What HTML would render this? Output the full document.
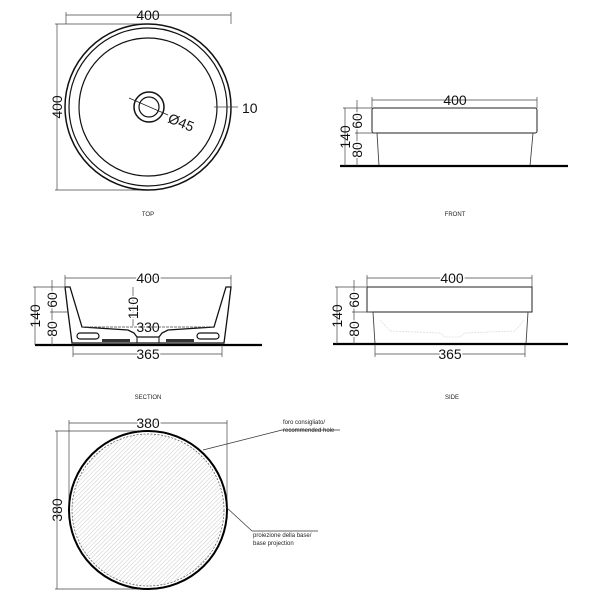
<!DOCTYPE html>
<html><head><meta charset="utf-8"><style>
html,body{margin:0;padding:0;background:#fff;}
svg{display:block;font-family:"Liberation Sans",sans-serif;}
.d{stroke:#444;stroke-width:0.7;fill:none}
.t{font-size:14px;fill:#111}
.s{font-size:6px;fill:#222}
</style></head><body>
<svg width="604" height="600" viewBox="0 0 604 600" xmlns="http://www.w3.org/2000/svg">
<defs>
<pattern id="h" width="3" height="3" patternUnits="userSpaceOnUse" patternTransform="rotate(45)">
<line x1="0" y1="0" x2="0" y2="3" stroke="#bbb" stroke-width="0.8"/>
</pattern>
<marker id="a" markerWidth="6" markerHeight="6" refX="3" refY="3" orient="auto"><path d="M0,3 L6,3" stroke="#000" stroke-width="2"/></marker>
</defs>

<!-- TOP -->
<line class="d" x1="66" y1="15" x2="231" y2="15"/>
<line class="d" x1="66" y1="12" x2="66" y2="24"/><line class="d" x1="231" y1="12" x2="231" y2="24"/>
<line class="d" x1="57" y1="24" x2="57" y2="190"/>
<line class="d" x1="55" y1="24" x2="148" y2="24"/><line class="d" x1="55" y1="190" x2="148" y2="190"/>
<text class="t" x="148" y="20" text-anchor="middle">400</text>
<text class="t" transform="translate(62,107) rotate(-90)" text-anchor="middle">400</text>
<circle cx="148" cy="107" r="83" fill="none" stroke="#111" stroke-width="1.5"/>
<circle cx="148" cy="107" r="79" fill="none" stroke="#111" stroke-width="1.2"/>
<circle cx="148" cy="107" r="69" fill="none" stroke="#111" stroke-width="1.2"/>
<circle cx="149" cy="107" r="15" fill="none" stroke="#111" stroke-width="1.5"/>
<circle cx="149" cy="107" r="10" fill="none" stroke="#111" stroke-width="1.2"/>
<line x1="129" y1="98" x2="168" y2="115" stroke="#222" stroke-width="0.8"/>
<text class="t" transform="translate(167,122) rotate(22)">Ø45</text>
<line class="d" x1="214" y1="107" x2="238" y2="107"/>
<text class="t" x="242" y="113">10</text>
<text class="s" x="148" y="216" text-anchor="middle">TOP</text>

<!-- FRONT -->
<line class="d" x1="372" y1="100" x2="537" y2="100"/>
<line class="d" x1="372" y1="97" x2="372" y2="108"/><line class="d" x1="537" y1="97" x2="537" y2="108"/>
<text class="t" x="455" y="105" text-anchor="middle">400</text>
<rect x="372" y="108" width="165" height="25" rx="2" fill="#fff" stroke="#222" stroke-width="1"/>
<path d="M377,133 L379,166 M533,133 L530,166" stroke="#444" stroke-width="0.9"/>
<line x1="340" y1="166" x2="568" y2="166" stroke="#000" stroke-width="2.2"/>
<line class="d" x1="345" y1="108" x2="345" y2="166"/><line class="d" x1="357" y1="100" x2="357" y2="166"/>
<line class="d" x1="343" y1="108" x2="372" y2="108"/><line class="d" x1="355" y1="133" x2="376" y2="133"/>
<text class="t" transform="translate(350,137) rotate(-90)" text-anchor="middle">140</text>
<text class="t" transform="translate(362,121) rotate(-90)" text-anchor="middle" style="paint-order:stroke;stroke:#fff;stroke-width:3">60</text>
<text class="t" transform="translate(362,150) rotate(-90)" text-anchor="middle" style="paint-order:stroke;stroke:#fff;stroke-width:3">80</text>
<text class="s" x="455" y="216" text-anchor="middle">FRONT</text>

<!-- SECTION -->
<line class="d" x1="65" y1="278" x2="231" y2="278"/>
<line class="d" x1="65" y1="275" x2="65" y2="287"/><line class="d" x1="231" y1="275" x2="231" y2="287"/>
<text class="t" x="148" y="283" text-anchor="middle" style="paint-order:stroke;stroke:#fff;stroke-width:3">400</text>
<path d="M65,287 L70,287 L82,327 L128,330 L134,333 L137,337 L159,337 L162,333 L168,330 L214,327 L226,287 L231,287 L228,312 L224,343 L72,343 L68,312 Z" fill="#fff" stroke="#111" stroke-width="1.3"/>
<line x1="82" y1="327" x2="214" y2="327" stroke="#444" stroke-width="0.7" stroke-dasharray="3,1"/>
<rect x="77" y="333" width="22" height="6" rx="3" fill="#fff" stroke="#111" stroke-width="1.2"/>
<rect x="197" y="333" width="22" height="6" rx="3" fill="#fff" stroke="#111" stroke-width="1.2"/>
<rect x="102" y="339" width="28" height="3" fill="#333"/>
<rect x="166" y="339" width="28" height="3" fill="#333"/>
<line x1="137" y1="337" x2="137" y2="343" stroke="#111"/><line x1="159" y1="337" x2="159" y2="343" stroke="#111"/>
<line x1="35" y1="345" x2="262" y2="345" stroke="#000" stroke-width="2.2"/>
<line class="d" x1="133" y1="287" x2="133" y2="326"/>
<text class="t" transform="translate(138,308) rotate(-90)" text-anchor="middle" style="paint-order:stroke;stroke:#fff;stroke-width:3">110</text>
<text class="t" x="148" y="332" text-anchor="middle">330</text>
<line class="d" x1="73" y1="354" x2="222" y2="354"/>
<line class="d" x1="73" y1="345" x2="73" y2="357"/><line class="d" x1="222" y1="345" x2="222" y2="357"/>
<text class="t" x="148" y="359" text-anchor="middle" style="paint-order:stroke;stroke:#fff;stroke-width:3">365</text>
<line class="d" x1="35" y1="287" x2="35" y2="345"/><line class="d" x1="52" y1="280" x2="52" y2="345"/>
<line class="d" x1="33" y1="287" x2="64" y2="287"/><line class="d" x1="50" y1="312" x2="68" y2="312"/>
<text class="t" transform="translate(40,316) rotate(-90)" text-anchor="middle">140</text>
<text class="t" transform="translate(57,300) rotate(-90)" text-anchor="middle" style="paint-order:stroke;stroke:#fff;stroke-width:3">60</text>
<text class="t" transform="translate(57,329) rotate(-90)" text-anchor="middle" style="paint-order:stroke;stroke:#fff;stroke-width:3">80</text>
<text class="s" x="148" y="399" text-anchor="middle">SECTION</text>

<!-- SIDE -->
<line class="d" x1="367" y1="278" x2="532" y2="278"/>
<line class="d" x1="367" y1="275" x2="367" y2="287"/><line class="d" x1="532" y1="275" x2="532" y2="287"/>
<text class="t" x="452" y="283" text-anchor="middle" style="paint-order:stroke;stroke:#fff;stroke-width:3">400</text>
<rect x="367" y="287" width="165" height="25" fill="#fff" stroke="#222" stroke-width="1"/>
<path d="M373,312 L375,344 M528,312 L526,344" stroke="#444" stroke-width="0.9"/>
<path d="M380,320 L390,331 L440,333 L445,337 L460,337 L465,333 L515,331 L524,320" stroke="#ddd" stroke-width="0.8" fill="none" stroke-dasharray="2,1"/>
<line x1="333" y1="344" x2="568" y2="344" stroke="#000" stroke-width="2.2"/>
<line class="d" x1="375" y1="354" x2="525" y2="354"/>
<line class="d" x1="375" y1="345" x2="375" y2="357"/><line class="d" x1="525" y1="345" x2="525" y2="357"/>
<text class="t" x="450" y="359" text-anchor="middle" style="paint-order:stroke;stroke:#fff;stroke-width:3">365</text>
<line class="d" x1="337" y1="287" x2="337" y2="344"/><line class="d" x1="354" y1="280" x2="354" y2="344"/>
<line class="d" x1="335" y1="287" x2="366" y2="287"/><line class="d" x1="352" y1="312" x2="372" y2="312"/>
<text class="t" transform="translate(342,316) rotate(-90)" text-anchor="middle">140</text>
<text class="t" transform="translate(359,300) rotate(-90)" text-anchor="middle" style="paint-order:stroke;stroke:#fff;stroke-width:3">60</text>
<text class="t" transform="translate(359,329) rotate(-90)" text-anchor="middle" style="paint-order:stroke;stroke:#fff;stroke-width:3">80</text>
<text class="s" x="452" y="399" text-anchor="middle">SIDE</text>

<!-- BOTTOM -->
<line class="d" x1="69" y1="423" x2="227" y2="423"/>
<line class="d" x1="69" y1="420" x2="69" y2="510"/><line class="d" x1="227" y1="420" x2="227" y2="510"/>
<text class="t" x="148" y="428" text-anchor="middle" style="paint-order:stroke;stroke:#fff;stroke-width:3">380</text>
<line class="d" x1="57" y1="431" x2="57" y2="589"/>
<line class="d" x1="55" y1="431" x2="148" y2="431"/><line class="d" x1="55" y1="589" x2="148" y2="589"/>
<text class="t" transform="translate(62,510) rotate(-90)" text-anchor="middle">380</text>
<circle cx="148" cy="510" r="76" fill="url(#h)" stroke="#555" stroke-width="0.7" stroke-dasharray="2,1.5"/>
<circle cx="148" cy="510" r="79" fill="none" stroke="#000" stroke-width="2"/>
<line x1="203" y1="450" x2="282" y2="430" stroke="#333" stroke-width="0.7"/>
<line x1="282" y1="430" x2="340" y2="430" stroke="#333" stroke-width="0.7"/>
<text class="s" x="283" y="424">foro consigliato/</text>
<text class="s" x="283" y="432">recommended hole</text>
<line x1="226" y1="507" x2="252" y2="531" stroke="#333" stroke-width="0.7"/>
<line x1="252" y1="531" x2="318" y2="531" stroke="#333" stroke-width="0.7"/>
<text class="s" x="253" y="537">proiezione della base/</text>
<text class="s" x="253" y="545">base projection</text>
</svg>
</body></html>
